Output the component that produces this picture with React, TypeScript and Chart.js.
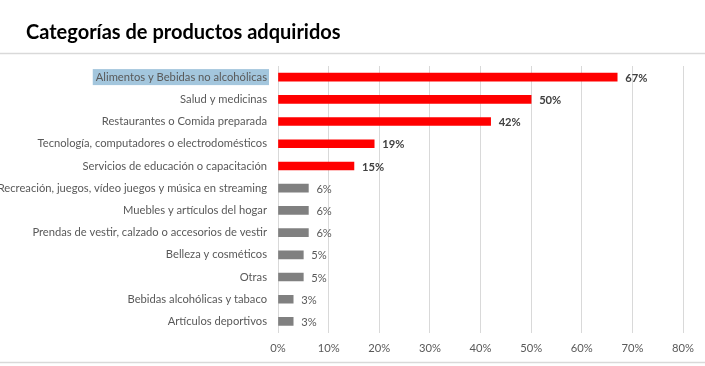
import React, { useEffect, useRef } from "react";
import { Chart, registerables } from "chart.js";

Chart.register(...registerables);

const TITLE = "Categorías de productos adquiridos";
const categories = [
  "Alimentos y Bebidas no alcohólicas",
  "Salud y medicinas",
  "Restaurantes o Comida preparada",
  "Tecnología, computadores o electrodomésticos",
  "Servicios de educación o capacitación",
  "Recreación, juegos, vídeo juegos y música en streaming",
  "Muebles y artículos del hogar",
  "Prendas de vestir, calzado o accesorios de vestir",
  "Belleza y cosméticos",
  "Otras",
  "Bebidas alcohólicas y tabaco",
  "Artículos deportivos",
];
const values = [67, 50, 42, 19, 15, 6, 6, 6, 5, 5, 3, 3];
const highlighted = [true, true, true, true, true, false, false, false, false, false, false, false];
const xTicks = [0, 10, 20, 30, 40, 50, 60, 70, 80];

const FONT = "Lato, 'Open Sans', sans-serif";
const FS = 11.2;
const RED = "#ff0000";
const GRAY = "#808080";
const Y_PAD = 11;

const decorPlugin = {
  id: "decor",
  afterLayout(chart: any) {
    // let the category labels run to the canvas edge instead of being clipped at the scale's left
    chart.scales.y.left = 0;
  },
  beforeDraw(chart: any) {
    const ctx = chart.ctx;
    const { width } = chart;
    ctx.save();
    ctx.strokeStyle = "#d9d9d9";
    ctx.lineWidth = 1.5;
    ctx.beginPath();
    ctx.moveTo(0, 53.5);
    ctx.lineTo(width, 53.5);
    ctx.moveTo(0, 362.5);
    ctx.lineTo(width, 362.5);
    ctx.stroke();
    // highlight behind first category label
    const y = chart.scales.y;
    const yc = y.getPixelForTick(0);
    ctx.font = `${FS}px ${FONT}`;
    const w = ctx.measureText(categories[0]).width;
    const right = chart.chartArea.left - Y_PAD;
    ctx.fillStyle = "#a3c6dd";
    ctx.fillRect(right - w - 3, yc - 8, w + 5, 16);
    ctx.restore();
  },
  afterDatasetsDraw(chart: any) {
    const ctx = chart.ctx;
    const meta = chart.getDatasetMeta(0);
    ctx.save();
    ctx.textAlign = "left";
    ctx.textBaseline = "middle";
    meta.data.forEach((bar: any, i: number) => {
      const bold = highlighted[i];
      ctx.font = `${bold ? "bold " : ""}${FS}px ${FONT}`;
      ctx.fillStyle = bold ? "#404040" : "#595959";
      ctx.fillText(`${values[i]}%`, bar.x + 8, bar.y + 1);
    });
    ctx.restore();
  },
};

export default function App() {
  const ref = useRef<HTMLCanvasElement>(null);
  useEffect(() => {
    if (!ref.current) return;
    const chart = new Chart(ref.current, {
      type: "bar",
      data: {
        labels: categories,
        datasets: [
          {
            data: values,
            backgroundColor: values.map((_, i) => (highlighted[i] ? RED : GRAY)),
            barThickness: 8,
          },
        ],
      },
      options: {
        indexAxis: "y",
        animation: false,
        responsive: false,
        layout: { padding: { left: 26, right: 22, top: 0, bottom: 2 } },
        plugins: {
          legend: { display: false },
          tooltip: { enabled: false },
          title: {
            display: true,
            text: TITLE,
            align: "start",
            color: "#000000",
            font: { family: FONT, size: 20, weight: "bold" },
            padding: { top: 21, bottom: 21 },
          },
        },
        scales: {
          x: {
            min: 0,
            max: 80,
            afterBuildTicks: (scale: any) => {
              scale.ticks = xTicks.map((v) => ({ value: v }));
            },
            ticks: {
              callback: (v: any) => `${v}%`,
              color: "#595959",
              font: { family: FONT, size: FS },
              padding: 9,
              maxRotation: 0,
            },
            grid: { color: "#d9d9d9", drawTicks: false },
            border: { display: false },
          },
          y: {
            afterFit: (scale: any) => {
              scale.width = 252;
            },
            ticks: {
              color: "#595959",
              font: { family: FONT, size: FS },
              padding: Y_PAD,
              autoSkip: false,
            },
            grid: { display: false, drawTicks: false },
            border: { display: false },
          },
        },
      },
      plugins: [decorPlugin],
    });
    return () => chart.destroy();
  }, []);
  return (
    <div style={{ position: "fixed", left: 0, top: 0, width: 705, height: 366, background: "#fff" }}>
      <canvas ref={ref} width={705} height={366} style={{ display: "block" }} />
    </div>
  );
}
